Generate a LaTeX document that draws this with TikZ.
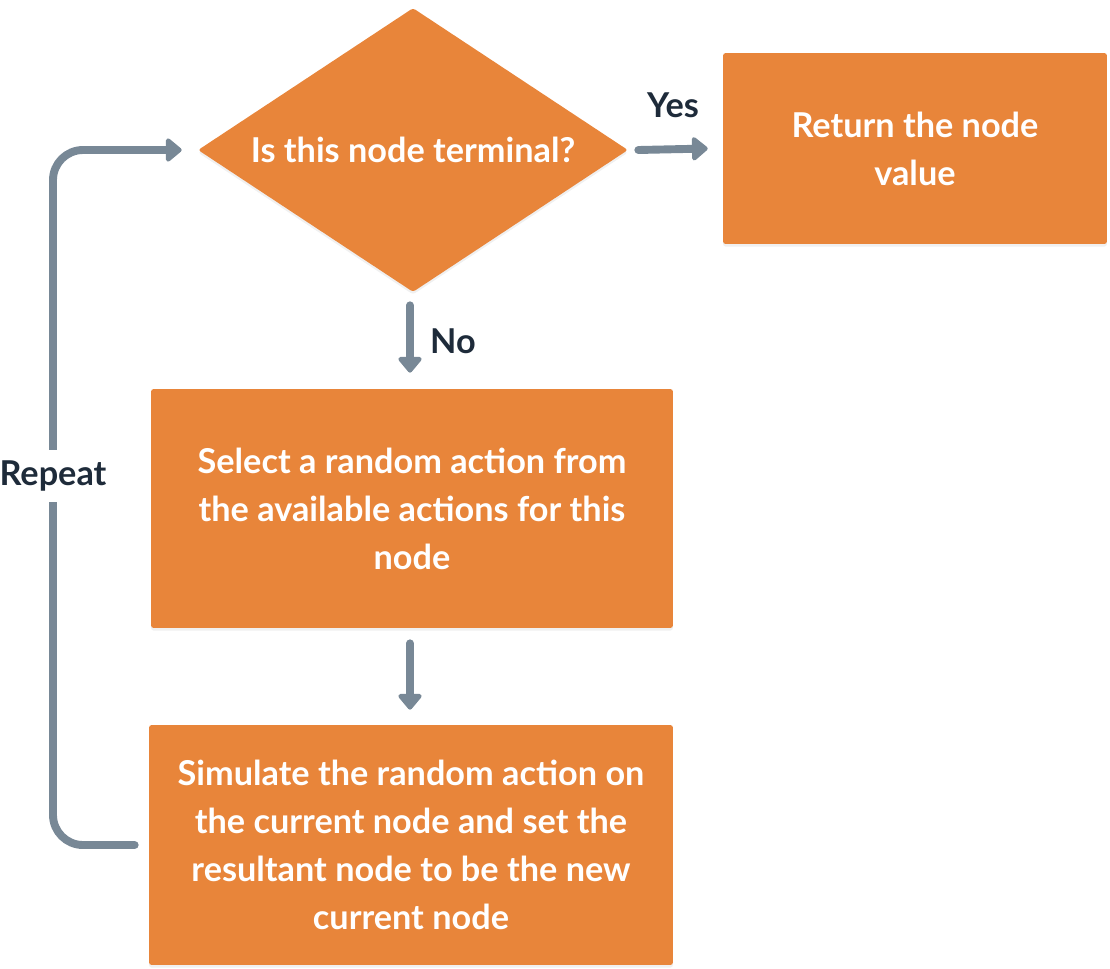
\documentclass[tikz,border=0pt]{standalone}
\usepackage{fontspec}
\setmainfont{Lato}
\usetikzlibrary{shapes.geometric,arrows.meta,calc,shadows}

\definecolor{boxorange}{HTML}{E8853A}
\definecolor{arrowgray}{HTML}{788896}
\definecolor{labeldark}{HTML}{1E2B3A}

\newcommand{\boxfont}{\fontsize{19.5}{27.3}\selectfont\bfseries}
\newcommand{\labelfont}{\fontsize{19.5}{24}\selectfont\bfseries}

\tikzset{
  stepbox/.style={rectangle, fill=boxorange, rounded corners=1.5pt, text=white,
    align=center, font=\boxfont, inner sep=0pt,
    drop shadow={opacity=0.12, shadow xshift=0pt, shadow yshift=-1.5pt}},
  askbox/.style={diamond, aspect=1.51, fill=boxorange, rounded corners=1.5pt, text=white,
    align=center, font=\boxfont, inner sep=0pt,
    minimum width=8.6cm, minimum height=5.68cm,
    drop shadow={opacity=0.12, shadow xshift=0pt, shadow yshift=-1.5pt}},
  flow/.style={arrowgray, line width=4.5pt, line cap=round,
    -{Triangle[length=0.34cm, width=0.54cm, round]}},
  flowlabel/.style={text=labeldark, font=\labelfont}
}

\begin{document}
\begin{tikzpicture}[x=0.02cm, y=-0.02cm]
    \useasboundingbox (0,0) rectangle (1110,968);
    % boxes
    \node[askbox] (terminal) at (413,150) {Is this node terminal?};
    \node[stepbox, minimum width=7.68cm, minimum height=3.82cm] (value) at (915,148.5) {Return the node\\value};
    \node[stepbox, minimum width=10.44cm, minimum height=4.78cm] (select) at (412,508.5) {Select a random action from\\the available actions for this\\node};
    \node[stepbox, minimum width=10.48cm, minimum height=4.8cm] (simulate) at (411,845) {Simulate the random action on\\the current node and set the\\resultant node to be the new\\current node};
    % arrows
    \draw[flow] ($(terminal.east)+(10,0)$) -- ($(value.west)+(-15,0)$);
    \node[flowlabel] (yes) at (673,105) {Yes};
    \draw[flow] ($(terminal.south)+(-3,13)$) -- ($(select.north)+(-2,-16)$);
    \node[flowlabel] (no) at (453,341) {No};
    \draw[flow] ($(select.south)+(-2,15)$) -- ($(simulate.north)+(-1,-15)$);
    % loop back
    \coordinate (loopstart) at ($(simulate.west)+(-14,0)$);
    \coordinate (loopend) at ($(terminal.west)+(-16,0)$);
    \draw[flow, rounded corners=0.6cm] (loopstart) -- (53,845) -- (53,150) -- (loopend);
    \node[flowlabel, fill=white, inner xsep=0pt, inner ysep=6pt] (repeat) at (53,476) {Repeat};
\end{tikzpicture}
\end{document}
